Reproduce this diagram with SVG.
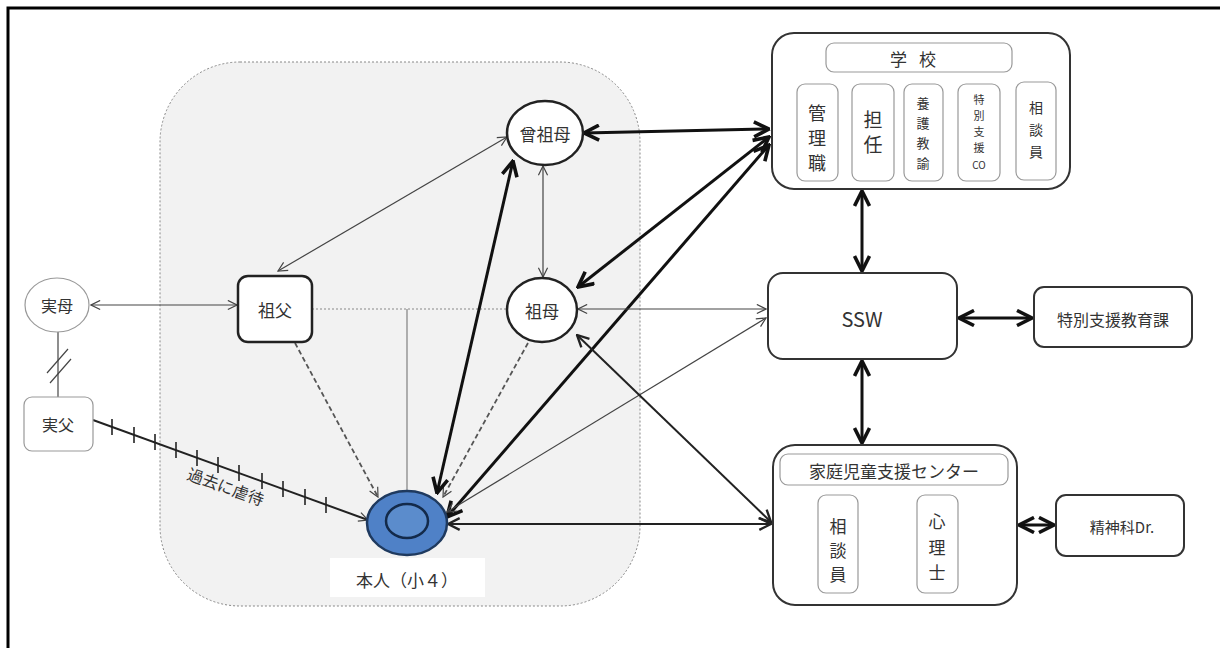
<svg xmlns="http://www.w3.org/2000/svg" width="1220" height="648" viewBox="0 0 1220 648">
<defs>
<style>
text{font-family:"Noto Sans CJK JP","Noto Sans",sans-serif;fill:#333;text-anchor:middle;dominant-baseline:central}
.box{fill:#fff;stroke:#333;stroke-width:2}
.sub{fill:#fff;stroke:#999;stroke-width:1.2}
.thin{fill:none;stroke:#444;stroke-width:1.2}
.med{fill:none;stroke:#222;stroke-width:2}
.thick{fill:none;stroke:#111;stroke-width:3}
.dash{fill:none;stroke:#555;stroke-width:1.8;stroke-dasharray:5 3}
</style>
<marker id="aT" viewBox="0 0 12 12" refX="11" refY="6" markerWidth="11" markerHeight="11" markerUnits="userSpaceOnUse" orient="auto-start-reverse"><path d="M1,1 L11,6 L1,11" fill="none" stroke="#444" stroke-width="1.3"/></marker>
<marker id="aM" viewBox="0 0 12 12" refX="11" refY="6" markerWidth="14" markerHeight="14" markerUnits="userSpaceOnUse" orient="auto-start-reverse"><path d="M1,1 L11,6 L1,11" fill="none" stroke="#222" stroke-width="2"/></marker>
<marker id="aK" viewBox="0 0 12 12" refX="11" refY="6" markerWidth="18" markerHeight="18" markerUnits="userSpaceOnUse" orient="auto-start-reverse"><path d="M1,1 L11,6 L1,11" fill="none" stroke="#111" stroke-width="2.4"/></marker>
</defs>
<rect width="1220" height="648" fill="#fff"/>
<path d="M8,648 V8 H1220" fill="none" stroke="#000" stroke-width="3"/>

<g id="family-area">
<rect x="160" y="62" width="480" height="544" rx="80" fill="#f2f2f2" stroke="#888" stroke-width="1" stroke-dasharray="2 2"/>
</g>

<g id="connectors">
<line x1="91" y1="305" x2="237" y2="305" class="thin" marker-start="url(#aT)" marker-end="url(#aT)"/>
<line x1="58" y1="332" x2="58" y2="397" class="thin"/>
<line x1="47" y1="373" x2="68" y2="349" class="thin"/>
<line x1="50" y1="383" x2="71" y2="359" class="thin"/>
<line x1="93" y1="420" x2="368" y2="520" class="med" stroke-width="1.8" marker-end="url(#aT)"/>
<g stroke="#222" stroke-width="1.6">
<line x1="112" y1="419" x2="112" y2="435"/>
<line x1="134" y1="427" x2="134" y2="443"/>
<line x1="155" y1="434" x2="155" y2="450"/>
<line x1="176" y1="442" x2="176" y2="458"/>
<line x1="197" y1="450" x2="197" y2="466"/>
<line x1="218" y1="457" x2="218" y2="473"/>
<line x1="239" y1="465" x2="239" y2="481"/>
<line x1="262" y1="473" x2="262" y2="489"/>
<line x1="283" y1="481" x2="283" y2="497"/>
<line x1="305" y1="489" x2="305" y2="505"/>
<line x1="326" y1="497" x2="326" y2="513"/>
</g>
<line x1="507" y1="137" x2="278" y2="271" class="thin" marker-start="url(#aT)" marker-end="url(#aT)"/>
<line x1="543" y1="166" x2="543" y2="277" class="thin" stroke="#666" marker-start="url(#aT)" marker-end="url(#aT)"/>
<line x1="312" y1="309" x2="507" y2="309" stroke="#888" stroke-width="1" stroke-dasharray="2 2"/>
<line x1="407" y1="309" x2="407" y2="490" stroke="#888" stroke-width="1.3"/>
<line x1="295" y1="343" x2="378" y2="497" class="dash" marker-end="url(#aT)"/>
<line x1="528" y1="343" x2="443" y2="497" class="dash" marker-end="url(#aT)"/>
<line x1="437" y1="493" x2="513" y2="161" class="thick" marker-start="url(#aK)" marker-end="url(#aK)"/>
<line x1="584" y1="133" x2="769" y2="129" class="thick" marker-start="url(#aK)" marker-end="url(#aK)"/>
<line x1="769" y1="137" x2="578" y2="287" class="thick" marker-start="url(#aK)" marker-end="url(#aK)"/>
<line x1="769" y1="145" x2="447" y2="517" class="thick" marker-start="url(#aK)" marker-end="url(#aK)"/>
<line x1="578" y1="309" x2="766" y2="309" class="thin" marker-start="url(#aT)" marker-end="url(#aT)"/>
<line x1="766" y1="318" x2="447" y2="512" class="thin" marker-start="url(#aT)" marker-end="url(#aT)"/>
<line x1="577" y1="335" x2="771" y2="522" class="med" marker-start="url(#aM)" marker-end="url(#aM)"/>
<line x1="448" y1="524" x2="771" y2="524" class="med" marker-start="url(#aM)" marker-end="url(#aM)"/>
<line x1="862" y1="191" x2="862" y2="271" class="thick" marker-start="url(#aK)" marker-end="url(#aK)"/>
<line x1="862" y1="361" x2="862" y2="443" class="thick" marker-start="url(#aK)" marker-end="url(#aK)"/>
<line x1="959" y1="318" x2="1032" y2="318" class="thick" marker-start="url(#aK)" marker-end="url(#aK)"/>
<line x1="1019" y1="525" x2="1054" y2="525" class="thick" stroke-width="3.5" marker-start="url(#aK)" marker-end="url(#aK)"/>
</g>

<g id="jitsubo">
<ellipse cx="57" cy="305" rx="32" ry="27" fill="#fff" stroke="#999" stroke-width="1.2"/>
<text x="57" y="305" font-size="16">実母</text>
</g>
<g id="jitsufu">
<rect x="24" y="397" width="69" height="54" rx="8" fill="#fff" stroke="#999" stroke-width="1.2"/>
<text x="58" y="424" font-size="16">実父</text>
</g>
<g id="sofu">
<rect x="238" y="276" width="74" height="66" rx="10" fill="#fff" stroke="#222" stroke-width="2.5"/>
<text x="275" y="309" font-size="17">祖父</text>
</g>
<g id="sobo">
<ellipse cx="542" cy="310" rx="35" ry="32" fill="#fff" stroke="#222" stroke-width="2.5"/>
<text x="542" y="310" font-size="17">祖母</text>
</g>
<g id="sousobo">
<ellipse cx="545" cy="133" rx="38" ry="32" fill="#fff" stroke="#222" stroke-width="2.5"/>
<text x="545" y="133" font-size="17">曾祖母</text>
</g>
<g id="honnin">
<ellipse cx="407" cy="523" rx="40" ry="32" fill="#4f81c7" stroke="#1f3a5f" stroke-width="2.5"/>
<ellipse cx="407" cy="521" rx="21" ry="17" fill="#5b8ccc" stroke="#132a4a" stroke-width="2.5"/>
<rect x="330" y="558" width="155" height="39" fill="#fff"/>
<text x="407" y="579" font-size="17">本人（小４）</text>
</g>

<g id="gakkou">
<rect x="772" y="33" width="298" height="156" rx="22" class="box"/>
<rect x="826" y="43" width="186" height="29" rx="8" class="sub"/>
<text x="919" y="58" font-size="17" letter-spacing="12">学校</text>
<rect x="797" y="84" width="41" height="97" rx="8" class="sub"/>
<text x="817" y="112" font-size="18">管</text><text x="817" y="137" font-size="18">理</text><text x="817" y="162" font-size="18">職</text>
<rect x="852" y="84" width="42" height="97" rx="8" class="sub"/>
<text x="873" y="118" font-size="19">担</text><text x="873" y="143" font-size="19">任</text>
<rect x="904" y="84" width="39" height="97" rx="8" class="sub"/>
<text x="923" y="102" font-size="13" fill="#666">養</text><text x="923" y="122" font-size="13" fill="#666">護</text><text x="923" y="142" font-size="13" fill="#666">教</text><text x="923" y="162" font-size="13" fill="#666">諭</text>
<rect x="958" y="84" width="42" height="97" rx="8" class="sub"/>
<text x="979" y="99" font-size="11">特</text><text x="979" y="115" font-size="11">別</text><text x="979" y="131" font-size="11">支</text><text x="979" y="147" font-size="11">援</text><text x="979" y="164" font-size="10">CO</text>
<rect x="1016" y="82" width="40" height="98" rx="8" class="sub"/>
<text x="1036" y="107" font-size="14" fill="#666">相</text><text x="1036" y="129" font-size="14" fill="#666">談</text><text x="1036" y="151" font-size="14" fill="#666">員</text>
</g>

<g id="ssw">
<rect x="768" y="273" width="189" height="86" rx="15" class="box"/>
<text x="862" y="318" font-size="20" font-family="Open Sans, sans-serif">SSW</text>
</g>
<g id="tokubetsu">
<rect x="1034" y="287" width="158" height="60" rx="10" class="box"/>
<text x="1113" y="319" font-size="16">特別支援教育課</text>
</g>
<g id="katei">
<rect x="773" y="445" width="244" height="160" rx="22" class="box"/>
<rect x="780" y="454" width="228" height="31" rx="8" class="sub"/>
<text x="894" y="470" font-size="17">家庭児童支援センター</text>
<rect x="818" y="495" width="40" height="98" rx="8" class="sub"/>
<text x="838" y="525" font-size="17">相</text><text x="838" y="549" font-size="17">談</text><text x="838" y="573" font-size="17">員</text>
<rect x="917" y="495" width="41" height="98" rx="8" class="sub"/>
<text x="937" y="520" font-size="17">心</text><text x="937" y="546" font-size="17">理</text><text x="937" y="571" font-size="17">士</text>
</g>
<g id="seishinka">
<rect x="1056" y="495" width="128" height="61" rx="10" class="box"/>
<text x="1122" y="526" font-size="15">精神科Dr.</text>
</g>

<text x="226" y="486" font-size="16" transform="rotate(20 226 486)">過去に虐待</text>
</svg>
